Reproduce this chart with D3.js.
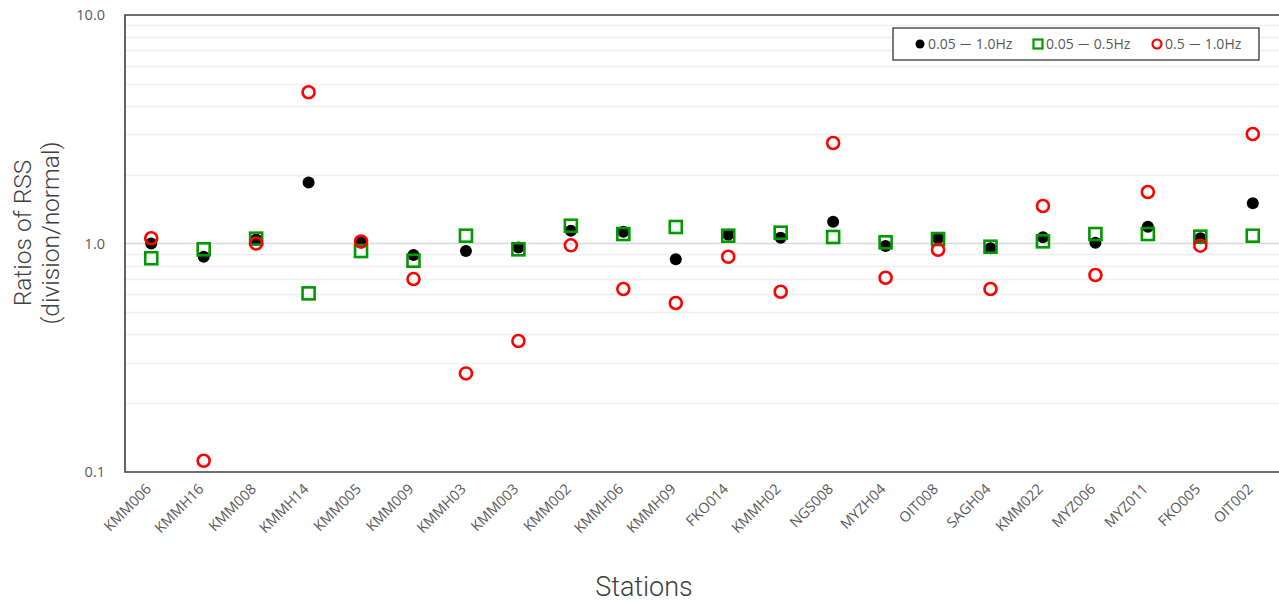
<!DOCTYPE html>
<html>
<head>
<meta charset="utf-8">
<script src="https://cdn.jsdelivr.net/npm/d3@7"></script>
<style>
    body { margin: 0; background: #fff; }
    svg { display: block; }
    .tick-label { font-family: "Open Sans", "Noto Sans", "DejaVu Sans", sans-serif; fill: #595959; }
    .legend-label { font-family: "Open Sans", "Noto Sans", sans-serif; fill: #595959; }
    .legend-dash { font-family: "Noto Sans CJK JP", sans-serif; }
    .title { font-family: Roboto, "Noto Sans", sans-serif; font-weight: 300; fill: #404040; }
</style>
</head>
<body>
<svg id="chart" width="1279" height="603"></svg>
<script>
// stations along the x axis
let stations = ['KMM006', 'KMMH16', 'KMM008', 'KMMH14', 'KMM005', 'KMM009', 'KMMH03', 'KMM003',
    'KMM002', 'KMMH06', 'KMMH09', 'FKO014', 'KMMH02', 'NGS008', 'MYZH04', 'OIT008',
    'SAGH04', 'KMM022', 'MYZ006', 'MYZ011', 'FKO005', 'OIT002']

// ratios
let band005to10 = [1.00, 0.875, 1.04, 1.85, 1.01, 0.89, 0.927, 0.96, 1.137, 1.126, 0.853, 1.093,
    1.06, 1.245, 0.975, 1.054, 0.953, 1.064, 1.008, 1.184, 1.054, 1.50]
let band005to05 = [0.862, 0.943, 1.05, 0.605, 0.927, 0.841, 1.082, 0.943, 1.196, 1.10, 1.181, 1.082,
    1.115, 1.068, 1.012, 1.046, 0.968, 1.022, 1.10, 1.10, 1.071, 1.082]
let band05to10 = [1.054, 0.112, 1.00, 4.59, 1.02, 0.699, 0.270, 0.3745, 0.982, 0.632, 0.549, 0.875,
    0.615, 2.753, 0.708, 0.939, 0.632, 1.459, 0.728, 1.680, 0.978, 3.015]

let yTicks = [0.1, 1, 10]
let seriesNames = ['0.05－1.0Hz', '0.05－0.5Hz', '0.5－1.0Hz']

let svg = d3.select('#chart')
let margin = {top: 15, right: 0, bottom: 131, left: 125}
let width = 1279 - margin.left - margin.right
let height = 603 - margin.top - margin.bottom

let g = svg.append('g').attr('transform', `translate(${margin.left},${margin.top})`)

let x = d3.scaleBand().domain(stations).range([0, width])
let y = d3.scaleLog().domain([0.1, 10]).range([height, 0])

// minor gridlines (2..9 of each decade)
let minor = []
;[0.1, 1].forEach(d => { for (let k = 2; k <= 9; k++) minor.push(d * k) })
g.selectAll('line.minor').data(minor).enter().append('line')
    .attr('x1', 0).attr('x2', width)
    .attr('y1', d => Math.round(y(d)) + 0.5).attr('y2', d => Math.round(y(d)) + 0.5)
    .attr('stroke', '#f0f0f0').attr('stroke-width', 1.3)

g.append('line')
    .attr('x1', 0).attr('x2', width)
    .attr('y1', y(1)).attr('y2', y(1))
    .attr('stroke', '#d9d9d9').attr('stroke-width', 1.5)

// frame: top, left, bottom
g.append('path')
    .attr('d', `M${width},0H0V${height}H${width}`)
    .attr('fill', 'none').attr('stroke', '#404040').attr('stroke-width', 1.6)

// y tick labels
g.selectAll('text.ytick').data(yTicks).enter().append('text')
    .attr('class', 'tick-label')
    .attr('x', -20).attr('y', d => y(d)).attr('dy', '0.35em')
    .attr('text-anchor', 'end').attr('font-size', 14.5)
    .text(d => d3.format('.1f')(d))

// x tick labels, rotated
g.selectAll('text.xtick').data(stations).enter().append('text')
    .attr('class', 'tick-label')
    .attr('font-size', 14.5)
    .attr('text-anchor', 'end')
    .attr('transform', d => `translate(${x(d) + x.bandwidth() / 2 + 1},${height + 18}) rotate(-45)`)
    .text(d => d)

// axis titles
svg.append('text').attr('class', 'title')
    .attr('x', 644).attr('y', 596)
    .attr('text-anchor', 'middle').attr('font-size', 27)
    .text('Stations')

svg.append('text').attr('class', 'title')
    .attr('transform', 'translate(31,233) rotate(-90)')
    .attr('text-anchor', 'middle').attr('font-size', 24.5)
    .text('Ratios of RSS')
svg.append('text').attr('class', 'title')
    .attr('transform', 'translate(59,233) rotate(-90)')
    .attr('text-anchor', 'middle').attr('font-size', 24.5)
    .text('(division/normal)')

let cx = d => x(d) + x.bandwidth() / 2

// black filled dots
g.selectAll('circle.s1').data(stations).enter().append('circle')
    .attr('cx', cx).attr('cy', (d, i) => y(band005to10[i]))
    .attr('r', 6).attr('fill', '#000')

// green hollow squares
let sq = 12
g.selectAll('rect.s2').data(stations).enter().append('rect')
    .attr('x', d => cx(d) - sq / 2).attr('y', (d, i) => y(band005to05[i]) - sq / 2)
    .attr('width', sq).attr('height', sq)
    .attr('fill', 'none').attr('stroke', '#009900').attr('stroke-width', 2.6)

// red hollow circles
g.selectAll('circle.s3').data(stations).enter().append('circle')
    .attr('cx', cx).attr('cy', (d, i) => y(band05to10[i]))
    .attr('r', 6).attr('fill', 'none').attr('stroke', '#ff0000').attr('stroke-width', 2.6)

// legend
let legend = svg.append('g').attr('transform', 'translate(893,28)')
legend.append('rect')
    .attr('width', 366).attr('height', 32)
    .attr('fill', '#fff').attr('stroke', '#262626').attr('stroke-width', 1.2)

let legendX = [27, 145, 264]
seriesNames.forEach((name, i) => {
    let item = legend.append('g').attr('transform', `translate(${legendX[i]},16)`)
    if (i === 0) {
        item.append('circle').attr('r', 4.5).attr('fill', '#000')
    } else if (i === 1) {
        item.append('rect').attr('x', -4.5).attr('y', -4.5).attr('width', 9).attr('height', 9)
            .attr('fill', 'none').attr('stroke', '#009900').attr('stroke-width', 2.2)
    } else {
        item.append('circle').attr('r', 4.5)
            .attr('fill', 'none').attr('stroke', '#ff0000').attr('stroke-width', 2.2)
    }
    let parts = name.split('－')
    let t = item.append('text').attr('class', 'legend-label')
        .attr('x', 8).attr('dy', '0.35em').attr('font-size', 14)
    t.append('tspan').text(parts[0])
    t.append('tspan').attr('class', 'legend-dash').attr('dx', 3).text('－')
    t.append('tspan').attr('dx', 3).text(parts[1])
})
</script>
</body>
</html>
